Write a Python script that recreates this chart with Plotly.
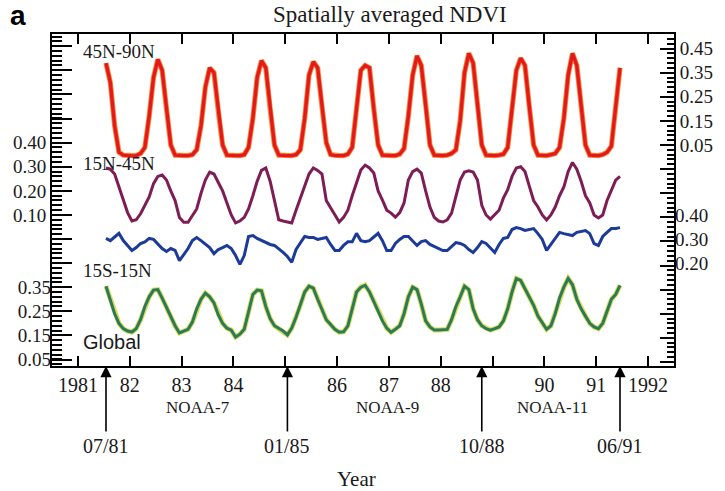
import plotly.graph_objects as go

# ---------------- data ----------------
start_year, start_month = 1981, 7
n_months = 120
t = [start_year + (start_month - 1 + i + 0.5) / 12 for i in range(n_months)]

ndvi_45n_90n = [
    .39, .31, .13, .02, .008, .006,
    .005, .006, .015, .04, .17, .33, .405, .36, .20, .05, .008, .006,
    .006, .006, .01, .03, .13, .29, .37, .35, .19, .05, .008, .006,
    .006, .006, .01, .04, .16, .33, .40, .37, .20, .05, .008, .006,
    .006, .006, .01, .03, .16, .34, .395, .37, .21, .06, .01, .006,
    .006, .006, .012, .04, .20, .36, .38, .37, .20, .05, .008, .006,
    .006, .006, .012, .035, .17, .34, .42, .38, .22, .05, .008, .006,
    .006, .008, .015, .03, .15, .35, .43, .39, .22, .05, .008, .006,
    .006, .008, .012, .04, .20, .36, .41, .38, .21, .05, .008, .006,
    .006, .01, .015, .04, .16, .34, .43, .38, .20, .05, .008, .006,
    .006, .01, .02, .045, .20, .37,
]
ndvi_15n_45n = [
    .295, .29, .27, .215, .16, .11,
    .075, .08, .105, .14, .175, .23, .26, .266, .245, .20, .16, .09,
    .07, .07, .10, .125, .19, .245, .278, .27, .235, .20, .15, .10,
    .067, .075, .09, .125, .18, .24, .285, .295, .24, .16, .08, .075,
    .07, .067, .12, .17, .22, .27, .295, .285, .27, .16, .13, .10,
    .071, .09, .12, .18, .233, .287, .307, .295, .274, .20, .162, .12,
    .108, .091, .11, .15, .245, .28, .29, .274, .20, .133, .09, .075,
    .071, .08, .108, .18, .245, .278, .283, .278, .245, .14, .10, .083,
    .10, .12, .17, .205, .26, .295, .30, .28, .22, .16, .133, .10,
    .079, .10, .133, .18, .216, .28, .318, .29, .24, .18, .15, .10,
    .088, .10, .16, .20, .245, .26,
]
ndvi_15s_15n = [
    .304, .295, .31, .325, .295, .275,
    .254, .266, .283, .29, .304, .30, .283, .262, .25, .262, .254, .212,
    .237, .262, .295, .308, .295, .279, .266, .241, .258, .266, .275, .262,
    .233, .196, .233, .312, .316, .304, .295, .287, .279, .275, .262, .246,
    .229, .205, .258, .287, .312, .308, .308, .30, .304, .308, .279, .254,
    .254, .275, .29, .29, .325, .295, .29, .295, .31, .325, .295, .254,
    .254, .283, .30, .312, .312, .295, .275, .291, .295, .279, .271, .262,
    .254, .254, .271, .287, .283, .275, .258, .246, .266, .291, .283, .266,
    .246, .279, .304, .308, .341, .349, .345, .337, .341, .345, .324, .30,
    .254, .279, .308, .329, .324, .32, .316, .329, .333, .337, .324, .283,
    .275, .312, .329, .345, .345, .349,
]
ndvi_global = [
    .354, .30, .24, .20, .178, .168,
    .164, .178, .215, .27, .31, .338, .34, .305, .265, .225, .19, .16,
    .168, .175, .205, .26, .30, .325, .31, .285, .235, .20, .18, .172,
    .143, .155, .175, .245, .32, .338, .335, .27, .22, .19, .178, .168,
    .152, .18, .225, .275, .33, .354, .346, .30, .255, .215, .195, .175,
    .163, .165, .19, .26, .33, .35, .358, .33, .29, .25, .21, .18,
    .163, .175, .19, .24, .31, .35, .34, .28, .21, .185, .172, .172,
    .172, .175, .215, .27, .31, .354, .34, .26, .215, .19, .178, .172,
    .178, .185, .21, .26, .33, .386, .378, .345, .31, .275, .23, .20,
    .175, .19, .24, .305, .35, .386, .36, .30, .26, .23, .20, .185,
    .178, .20, .25, .30, .32, .358,
]

year_ticks = list(range(1981, 1993))
year_labels = ["1981", "82", "83", "84", "", "86", "87", "88", "", "90", "91", "1992"]

labels_15n_45n = [0.10, 0.20, 0.30, 0.40]
labels_global = [0.05, 0.15, 0.25, 0.35]
labels_45n_90n = [0.05, 0.15, 0.25, 0.35, 0.45]
labels_15s_15n = [0.20, 0.30, 0.40]

satellites = ["NOAA-7", "NOAA-9", "NOAA-11"]
satellite_mid = [1983.32, 1986.97, 1990.15]
switch_dates = ["07/81", "01/85", "10/88", "06/91"]

# ---------------- styling ----------------
SERIF = "Liberation Serif, Times New Roman, serif"
SANS = "Liberation Sans, Arial, sans-serif"
TXT = "#1a1a1a"

LEFT_RANGE = [-0.5266, 0.8510]
GLOBAL_RANGE = [0.0230, 1.4006]
RIGHT_RANGE = [-0.867, 0.5106]
BLUE_RANGE = [-0.2253, 1.1523]

# major tick combs
left_major = [round(0.1 * k, 2) for k in range(-5, 9)]
left_text = [f"{v:.2f}" if any(abs(v - l) < 1e-6 for l in labels_15n_45n) else "" for v in left_major]
right_major = [round(0.05 + 0.1 * k, 2) for k in range(-9, 5)]
right_text = [f"{v:.2f}" if any(abs(v - l) < 1e-6 for l in labels_45n_90n) else "" for v in right_major]

fig = go.Figure()

# purple (15N-45N) on base axis y
fig.add_trace(go.Scatter(x=t, y=ndvi_15n_45n, yaxis="y", mode="lines",
                         line=dict(color="#7e1d55", width=3), name="15N-45N"))
# red (45N-90N): halo on y3 (labelled axis), core on y6 (same scale, fine right comb, drawn on top)
fig.add_trace(go.Scatter(x=t, y=ndvi_45n_90n, yaxis="y3", mode="lines",
                         line=dict(color="#f58a3c", width=5.2), hoverinfo="skip"))
fig.add_trace(go.Scatter(x=t, y=ndvi_45n_90n, yaxis="y6", mode="lines",
                         line=dict(color="#e3191b", width=3.4), name="45N-90N"))
# blue (15S-15N) on y4
fig.add_trace(go.Scatter(x=t, y=ndvi_15s_15n, yaxis="y4", mode="lines",
                         line=dict(color="#1c3a98", width=3), name="15S-15N"))
# green (Global): halo on y2 (labelled axis), core on y5 (same scale, fine left comb, drawn on top)
fig.add_trace(go.Scatter(x=t, y=ndvi_global, yaxis="y2", mode="lines",
                         line=dict(color="#d9de55", width=5), hoverinfo="skip"))
fig.add_trace(go.Scatter(x=t, y=ndvi_global, yaxis="y5", mode="lines",
                         line=dict(color="#2c7a5c", width=3), name="Global"))

tickfont = dict(family=SERIF, size=19, color=TXT)
common_y = dict(showgrid=False, zeroline=False, tickfont=tickfont, fixedrange=True)

fig.update_layout(
    width=725, height=491,
    margin=dict(l=52, r=39, t=34, b=125),
    paper_bgcolor="white", plot_bgcolor="white",
    showlegend=False,
    xaxis=dict(range=[1980.5, 1992.5], tickmode="array", tickvals=year_ticks, ticktext=year_labels,
               ticks="inside", ticklen=10, tickwidth=2, tickcolor="black",
               showline=True, linewidth=2, linecolor="black", mirror="ticks",
               showgrid=False, zeroline=False, tickfont=dict(family=SERIF, size=20, color=TXT)),
    yaxis=dict(range=LEFT_RANGE, tickmode="array", tickvals=left_major, ticktext=left_text,
               ticks="inside", ticklen=20, tickwidth=2, tickcolor="black",
               showline=True, linewidth=2, linecolor="black", side="left", **common_y),
    yaxis2=dict(range=GLOBAL_RANGE, overlaying="y", side="left", anchor="x",
                tickmode="array", tickvals=labels_global, ticktext=[f"{v:.2f}" for v in labels_global],
                ticks="", showline=False, **common_y),
    yaxis3=dict(range=RIGHT_RANGE, overlaying="y", side="right", anchor="x",
                tickmode="array", tickvals=right_major, ticktext=right_text,
                ticks="inside", ticklen=14, tickwidth=2, tickcolor="black",
                showline=True, linewidth=2, linecolor="black", **common_y),
    yaxis4=dict(range=BLUE_RANGE, overlaying="y", side="right", anchor="x",
                tickmode="array", tickvals=labels_15s_15n, ticktext=[f"{v:.2f}" for v in labels_15s_15n],
                ticks="", showline=False, **common_y),
    yaxis5=dict(range=GLOBAL_RANGE, overlaying="y", side="left", anchor="x",
                tickmode="linear", tick0=0.05, dtick=0.02, showticklabels=False,
                ticks="inside", ticklen=10, tickwidth=1.5, tickcolor="black",
                showline=False, showgrid=False, zeroline=False, fixedrange=True),
    yaxis6=dict(range=RIGHT_RANGE, overlaying="y", side="right", anchor="x",
                tickmode="linear", tick0=0.05, dtick=0.02, showticklabels=False,
                ticks="inside", ticklen=7, tickwidth=1.5, tickcolor="black",
                showline=False, showgrid=False, zeroline=False, fixedrange=True),
)

ann = []
# panel letter and title
ann.append(dict(text="<b>a</b>", xref="paper", yref="paper", x=-0.054, y=1.057,
                xanchor="center", yanchor="middle",
                showarrow=False, font=dict(family=SANS, size=28, color="black")))
ann.append(dict(text="Spatially averaged NDVI", xref="paper", yref="paper", x=0.543, y=1.058,
                xanchor="center", yanchor="middle",
                showarrow=False, font=dict(family=SERIF, size=23, color=TXT)))
# region labels
for txt, yp, fam, fs in [("45N-90N", 0.9458, SERIF, 19), ("15N-45N", 0.6114, SERIF, 19),
                         ("15S-15N", 0.289, SERIF, 19), ("Global", 0.0723, SANS, 20)]:
    ann.append(dict(text=txt, xref="paper", yref="paper", x=0.047, y=yp,
                    xanchor="left", yanchor="middle",
                    showarrow=False, font=dict(family=fam, size=fs, color=TXT)))
# satellites
for s, xm in zip(satellites, satellite_mid):
    ann.append(dict(text=s, xref="x", yref="paper", x=xm, y=-0.1265,
                    xanchor="center", yanchor="middle", showarrow=False,
                    font=dict(family=SERIF, size=17, color=TXT)))
# switch arrows with date labels
for d in switch_dates:
    mm, yy = d.split("/")
    xd = 1900 + int(yy) + (int(mm) - 0.5) / 12
    ann.append(dict(text=d, xref="x", yref="paper", x=xd, y=0, ax=0, ay=80,
                    showarrow=True, arrowhead=2, arrowsize=1.4, arrowwidth=1.6,
                    arrowcolor="black", standoff=0, startstandoff=2,
                    font=dict(family=SERIF, size=20, color=TXT)))
ann.append(dict(text="Year", xref="paper", yref="paper", x=0.489, y=-0.340,
                xanchor="center", yanchor="middle", showarrow=False,
                font=dict(family=SERIF, size=21, color=TXT)))
fig.update_layout(annotations=ann)

fig.write_html("out.html")
